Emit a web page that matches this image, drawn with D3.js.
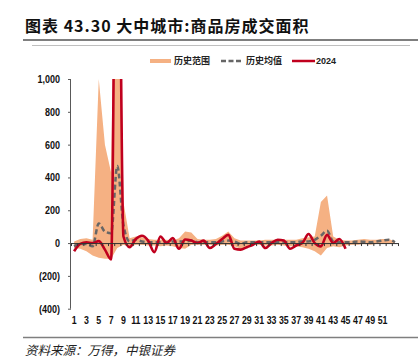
<!DOCTYPE html>
<html>
<head>
<meta charset="utf-8">
<script src="https://cdn.jsdelivr.net/npm/d3@7"></script>
<style>
  html, body { margin: 0; padding: 0; background: #fff; }
  svg { display: block; }
</style>
</head>
<body>
<div id="chart"></div>
<script>
// weeks 1..53
const weeks = d3.range(1, 54);

// historical range (max / min), historical mean, 2024
const histMax = [10, 25, 30, 20, 1000, 600, 430, 2800, 250, 30,
  40, 35, 25, 20, 20, 20, 15, 30, 70, 65,
  25, 20, 20, 25, 45, 70, 30, 15, 15, 15,
  15, 20, 20, 20, 20, 20, 20, 30, 35, 40,
  250, 290, 40, 20, 15, 15, 20, 25, 20, 20,
  25, 25, 10];
const histMin = [-30, -35, -50, -75, -90, -95, -95, -30, -10, -25,
  -10, -10, -15, -15, -20, -15, -20, -30, -35, -10,
  -10, -10, -10, -15, -10, -10, -20, -35, -25, -10,
  -10, -15, -15, -10, -15, -20, -20, -25, -35, -50,
  -75, -30, -20, -25, -15, -10, -10, -5, -10, -5,
  -5, -5, -5];
const histMean = [-20, -5, -5, -20, 120, 70, 60, 470, 110, 10,
  20, 10, 5, 5, 5, 5, 10, 10, 10, 15,
  5, 5, 5, 5, 10, 15, 10, -5, 5, 5,
  5, 5, 5, 5, 5, 5, 5, 10, 10, 20,
  45, 75, 10, 5, 5, 5, 10, 8, 5, 10,
  15, 20, 5];
const y2024 = [-50, -5, 5, 0, 12, -40, -100, 3000, 40, -25,
  25, 45, 15, -55, 40, 0, 30, -35, 22, 15,
  0, 15, -30, -5, 25, 50, -35, -40, -25, -10,
  10, -30, 0, 20, 15, -35, -15, 0, 55, 0,
  -20, 50, 0, 25, -35];

const yTicks = [-400, -200, 0, 200, 400, 600, 800, 1000];
const xLabels = d3.range(1, 52, 2);

const W = 418, H = 363;
const colPeach = '#F5B183', colRed = '#C0001E', colGray = '#666666';
const numFont = '"Liberation Sans", Arial, sans-serif';

const svg = d3.select('#chart').append('svg')
  .attr('width', W).attr('height', H);

// TITLE
svg.append('text')
  .attr('x', 25).attr('y', 32)
  .attr('font-family', '"Noto Sans CJK SC", sans-serif')
  .attr('font-weight', 'bold')
  .attr('font-size', 16)
  .attr('letter-spacing', 1)
  .attr('fill', '#111')
  .text('图表 43.30 大中城市:商品房成交面积');

svg.append('line').attr('x1', 23).attr('x2', 418).attr('y1', 40).attr('y2', 40)
  .attr('stroke', '#7f7f7f').attr('stroke-width', 2);
svg.append('line').attr('x1', 32).attr('x2', 410).attr('y1', 45.5).attr('y2', 45.5)
  .attr('stroke', '#bfbfbf').attr('stroke-width', 1);

// SCALES
const x = d3.scaleLinear().domain([0.5, 53.5]).range([71, 398]);
const y = d3.scaleLinear().domain([-400, 1000]).range([308.7, 79]);

svg.append('defs').append('clipPath').attr('id', 'plot')
  .append('rect').attr('x', 71).attr('y', y(1000)).attr('width', 330).attr('height', y(-400) - y(1000));

const plot = svg.append('g').attr('clip-path', 'url(#plot)');

// RANGE AREA
const area = d3.area()
  .x((d, i) => x(weeks[i]))
  .y0((d, i) => y(histMin[i]))
  .y1((d, i) => y(histMax[i]));
plot.append('path').datum(weeks).attr('d', area).attr('fill', colPeach);

// Y AXIS
const fmt = v => v < 0 ? '(' + d3.format(',')(-v) + ')' : d3.format(',')(v);
const yAxis = svg.append('g')
  .attr('transform', 'translate(71,0)')
  .call(d3.axisLeft(y).tickValues(yTicks).tickFormat('').tickSize(3));
yAxis.select('.domain').attr('stroke', '#595959').attr('d', `M-0.5,${y(1000)}V${y(-400)}`);
yAxis.selectAll('.tick line').attr('stroke', '#595959');

svg.append('g').selectAll('g').data(yTicks).join('g')
  .attr('transform', d => `translate(60,${y(d) + 4}) scale(0.82,1)`)
  .append('text')
  .attr('text-anchor', 'end')
  .attr('font-family', numFont)
  .attr('font-weight', 'bold').attr('font-size', 11).attr('fill', '#111')
  .text(fmt);

// X AXIS (at zero)
const xAxis = svg.append('g')
  .attr('transform', `translate(0,${y(0)})`)
  .call(d3.axisBottom(x).tickValues(d3.range(0.5, 54, 1)).tickFormat('').tickSize(3));
xAxis.select('.domain').attr('stroke', '#333').attr('d', `M71,0.5H398`);
xAxis.selectAll('.tick line').attr('stroke', '#333');

svg.append('g').selectAll('g').data(xLabels).join('g')
  .attr('transform', d => `translate(${x(d)},324) scale(0.8,1)`)
  .append('text')
  .attr('text-anchor', 'middle')
  .attr('font-family', numFont)
  .attr('font-weight', 'bold').attr('font-size', 11).attr('fill', '#111')
  .text(d => d);

// MEAN (dashed)
const line = vals => d3.line()
  .x((d, i) => x(weeks[i]))
  .y(d => y(d))
  .curve(d3.curveMonotoneX)(vals);

plot.append('path').attr('d', line(histMean))
  .attr('fill', 'none').attr('stroke', colGray)
  .attr('stroke-width', 2.5).attr('stroke-dasharray', '5,3');

// 2024
plot.append('path').attr('d', line(y2024))
  .attr('fill', 'none').attr('stroke', colRed)
  .attr('stroke-width', 2.6).attr('stroke-linejoin', 'round');

// LEGEND
const lg = svg.append('g').attr('font-family', '"Noto Sans CJK SC", sans-serif')
  .attr('font-weight', 'bold').attr('font-size', 9).attr('fill', '#222');
lg.append('rect').attr('x', 150).attr('y', 59).attr('width', 21).attr('height', 4).attr('fill', colPeach);
lg.append('text').attr('x', 174).attr('y', 64).text('历史范围');
lg.append('line').attr('x1', 221).attr('x2', 241).attr('y1', 61).attr('y2', 61)
  .attr('stroke', colGray).attr('stroke-width', 2.5).attr('stroke-dasharray', '5,2.5');
lg.append('text').attr('x', 246).attr('y', 64).text('历史均值');
lg.append('line').attr('x1', 292).attr('x2', 315).attr('y1', 61).attr('y2', 61)
  .attr('stroke', colRed).attr('stroke-width', 2.5);
lg.append('text').attr('x', 316).attr('y', 64)
  .attr('font-family', numFont).text('2024');

// SOURCE
svg.append('line').attr('x1', 23).attr('x2', 418).attr('y1', 337.5).attr('y2', 337.5)
  .attr('stroke', '#7f7f7f').attr('stroke-width', 1.5);
svg.append('text').attr('x', 25).attr('y', 355)
  .attr('font-family', '"Noto Sans CJK SC", sans-serif')
  .attr('font-style', 'italic').attr('font-size', 12.5).attr('fill', '#222')
  .text('资料来源：万得，中银证券');
</script>
</body>
</html>
